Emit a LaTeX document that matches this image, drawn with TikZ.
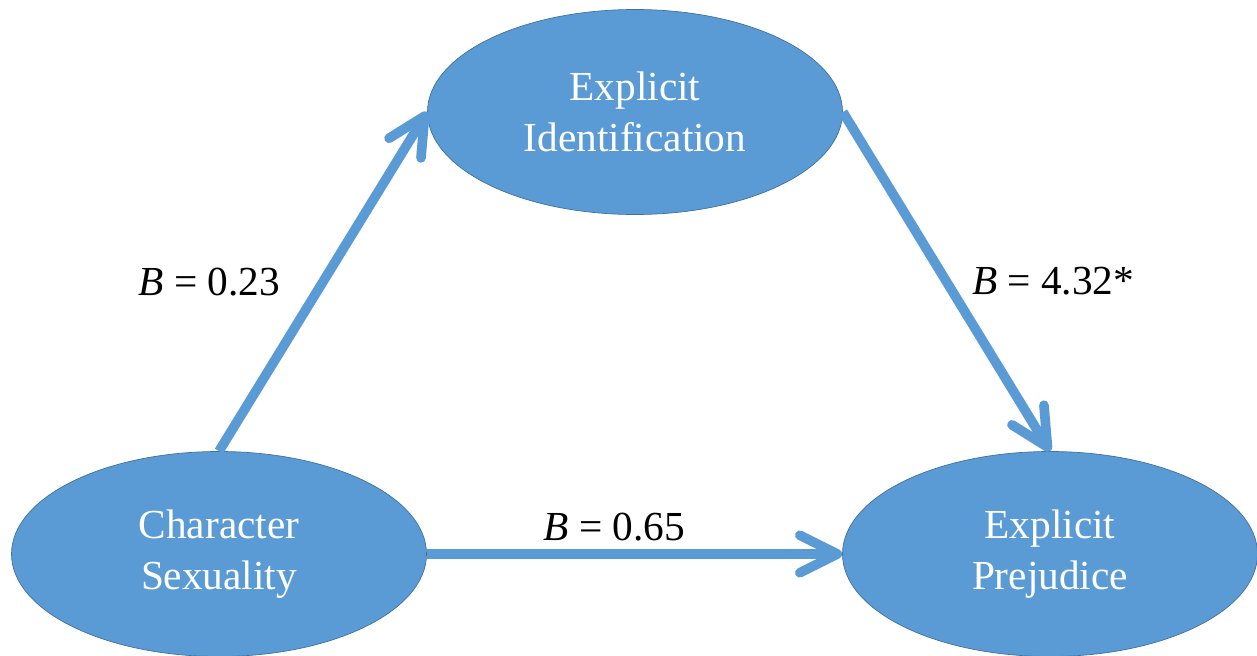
\documentclass[tikz,border=0pt]{standalone}
\usepackage{fontspec}
\setmainfont{Liberation Serif}
\usetikzlibrary{shapes.geometric,arrows.meta}
\definecolor{boxblue}{HTML}{5B9BD5}
\definecolor{rimblue}{HTML}{41719C}
\begin{document}
\begin{tikzpicture}[auto,
        var node/.style={ellipse,fill=boxblue,draw=rimblue,thin,
          minimum width=8.3cm,minimum height=4.1cm,inner sep=0pt,
          text=white,align=center,font=\fontsize{23.5}{29}\selectfont},
        path arrow/.style={draw=boxblue,line width=5.5pt,
          -{Straight Barb[length=7.5mm,width=7.5mm,round]}},
        coef/.style={font=\fontsize{23.5}{29}\selectfont,text=black}]
      \useasboundingbox (0,0) rectangle (25.14,-13.1);
      \node[var node] (ident) at (12.7,-2.24)  {Explicit\\Identification};
      \node[var node] (char)  at (4.38,-11.08) {Character\\Sexuality};
      \node[var node] (prej)  at (21.0,-11.08) {Explicit\\Prejudice};
           \path[every node/.style={coef}]
           (char.north) edge [path arrow] node [left=0.65cm] {\textit{B} = 0.23} (ident.west)
           (ident.east) edge [path arrow] node [right=0.3cm] {\textit{B} = 4.32*} (prej.north)
           (char.east)  edge [path arrow] node [above=0.05cm,xshift=-0.4cm] {\textit{B} = 0.65} (prej.west);
    \end{tikzpicture}
\end{document}
